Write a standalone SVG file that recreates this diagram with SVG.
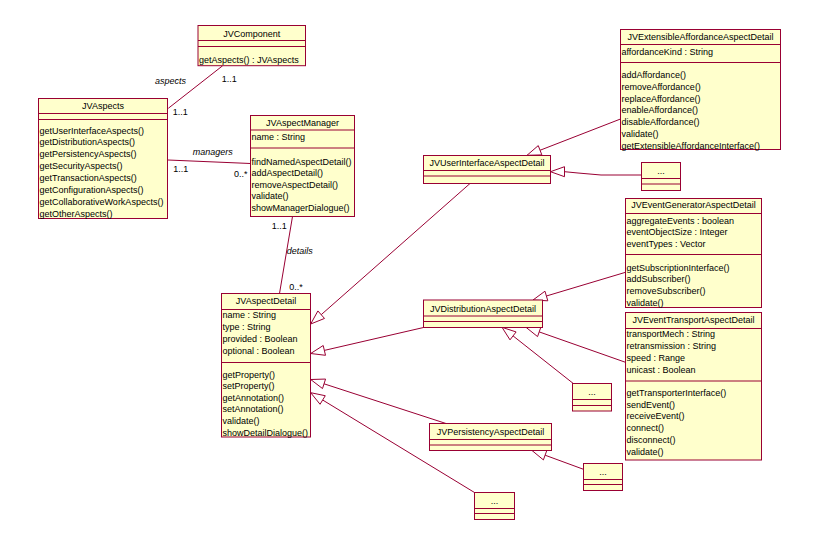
<svg xmlns="http://www.w3.org/2000/svg" width="819" height="545" viewBox="0 0 819 545">
<style>
.box{fill:#FFFFCC;stroke:#990033;stroke-width:1}
.div{stroke:#990033;stroke-width:1}
.ln{fill:none;stroke:#990033;stroke-width:1}
.tri{fill:#FFFFFF;stroke:#990033;stroke-width:1}
text{font-family:"Liberation Sans",Arial,sans-serif;font-size:9px;fill:#000000}
.t{text-anchor:middle}
.it{font-style:italic}
</style>
<rect width="819" height="545" fill="#FFFFFF"/>
<g id="connectors">
<line class="ln" x1="222.7" y1="65.7" x2="168.3" y2="108.3"/>
<line class="ln" x1="168" y1="160" x2="250.5" y2="163.5"/>
<line class="ln" x1="292.5" y1="216.5" x2="279.5" y2="293.5"/>
<line class="ln" x1="321.2" y1="314.7" x2="470" y2="183.5"/>
<polygon class="tri" points="310.7,324 324.5,318.45 317.9,310.95"/>
<line class="ln" x1="324.35" y1="350.4" x2="423.5" y2="327.5"/>
<polygon class="tri" points="310.7,353.5 325.5,355.3 323.2,345.5"/>
<line class="ln" x1="324" y1="383.8" x2="446" y2="423.5"/>
<polygon class="tri" points="310.7,379.5 322.5,388.55 325.55,379.05"/>
<line class="ln" x1="322.66" y1="400" x2="474.5" y2="492.5"/>
<polygon class="tri" points="310.7,392.7 320.05,404.27 325.27,395.73"/>
<line class="ln" x1="540.05" y1="150.25" x2="620.5" y2="119"/>
<polygon class="tri" points="527,155.3 541.85,154.9 538.25,145.6"/>
<polyline class="ln" points="564.5,171.7 578,173 601,175 641.5,175"/>
<polygon class="tri" points="550.5,171.7 564.5,166.7 564.5,176.7"/>
<line class="ln" x1="546.4" y1="296" x2="625.5" y2="272.3"/>
<polygon class="tri" points="533,300 547.8,300.8 544.97,291.2"/>
<line class="ln" x1="539.2" y1="331.9" x2="625.5" y2="362.3"/>
<polygon class="tri" points="526,327.3 537.55,336.6 540.85,327.2"/>
<line class="ln" x1="513.06" y1="335.9" x2="573.3" y2="383.5"/>
<polygon class="tri" points="502,327.3 510,339.85 516.1,331.95"/>
<line class="ln" x1="545.1" y1="455.2" x2="583.5" y2="469.3"/>
<polygon class="tri" points="532,450.5 543.4,459.9 546.8,450.5"/>
<text class="it" x="155" y="84">aspects</text>
<text x="221.7" y="82">1..1</text>
<text x="172.7" y="115">1..1</text>
<text class="it" x="192.7" y="155">managers</text>
<text x="173.3" y="172">1..1</text>
<text x="234" y="176.5">0..*</text>
<text x="271.7" y="229.3">1..1</text>
<text class="it" x="286.7" y="254.3">details</text>
<text x="289.3" y="290">0..*</text>
</g>
<g id="JVComponent">
<rect class="box" x="198" y="25.5" width="107.5" height="40.2"/>
<line class="div" x1="198" y1="40.5" x2="305.5" y2="40.5"/>
<line class="div" x1="198" y1="46.5" x2="305.5" y2="46.5"/>
<text class="t" x="251.7" y="36.5">JVComponent</text>
<text x="199" y="62.5">getAspects() : JVAspects</text>
</g>
<g id="JVAspects">
<rect class="box" x="38.5" y="98.5" width="129" height="120"/>
<line class="div" x1="38.5" y1="113.5" x2="167.5" y2="113.5"/>
<line class="div" x1="38.5" y1="119.5" x2="167.5" y2="119.5"/>
<text class="t" x="103" y="109.3">JVAspects</text>
<text x="39.5" y="133.5">getUserInterfaceAspects()</text>
<text x="39.5" y="145.4">getDistributionAspects()</text>
<text x="39.5" y="157.3">getPersistencyAspects()</text>
<text x="39.5" y="169.2">getSecurityAspects()</text>
<text x="39.5" y="181.1">getTransactionAspects()</text>
<text x="39.5" y="193">getConfigurationAspects()</text>
<text x="39.5" y="204.9">getCollaborativeWorkAspects()</text>
<text x="39.5" y="216.8">getOtherAspects()</text>
</g>
<g id="JVAspectManager">
<rect class="box" x="250.5" y="115.5" width="104" height="101"/>
<line class="div" x1="250.5" y1="130" x2="354.5" y2="130"/>
<line class="div" x1="250.5" y1="148" x2="354.5" y2="148"/>
<text class="t" x="302.5" y="126">JVAspectManager</text>
<text x="251.5" y="140">name : String</text>
<text x="251.5" y="164.5">findNamedAspectDetail()</text>
<text x="251.5" y="176.1">addAspectDetail()</text>
<text x="251.5" y="187.7">removeAspectDetail()</text>
<text x="251.5" y="199.3">validate()</text>
<text x="251.5" y="210.9">showManagerDialogue()</text>
</g>
<g id="JVAspectDetail">
<rect class="box" x="221.5" y="293.5" width="89" height="143.5"/>
<line class="div" x1="221.5" y1="309.5" x2="310.5" y2="309.5"/>
<line class="div" x1="221.5" y1="362.5" x2="310.5" y2="362.5"/>
<text class="t" x="266" y="304">JVAspectDetail</text>
<text x="222.5" y="318.3">name : String</text>
<text x="222.5" y="330.1">type : String</text>
<text x="222.5" y="341.9">provided : Boolean</text>
<text x="222.5" y="353.7">optional : Boolean</text>
<text x="222.5" y="377.6">getProperty()</text>
<text x="222.5" y="389.2">setProperty()</text>
<text x="222.5" y="400.8">getAnnotation()</text>
<text x="222.5" y="412.4">setAnnotation()</text>
<text x="222.5" y="424">validate()</text>
<text x="222.5" y="435.6">showDetailDialogue()</text>
</g>
<g id="JVUserInterfaceAspectDetail">
<rect class="box" x="423.5" y="155.5" width="127" height="28"/>
<line class="div" x1="423.5" y1="170.5" x2="550.5" y2="170.5"/>
<line class="div" x1="423.5" y1="176" x2="550.5" y2="176"/>
<text class="t" x="487" y="166">JVUserInterfaceAspectDetail</text>
</g>
<g id="UIOther">
<rect class="box" x="641.5" y="162.5" width="39" height="28"/>
<line class="div" x1="641.5" y1="178.5" x2="680.5" y2="178.5"/>
<line class="div" x1="641.5" y1="184" x2="680.5" y2="184"/>
<text class="t" x="661" y="174">...</text>
</g>
<g id="JVExtensibleAffordanceAspectDetail">
<rect class="box" x="620.5" y="29.5" width="160" height="120"/>
<line class="div" x1="620.5" y1="44.5" x2="780.5" y2="44.5"/>
<line class="div" x1="620.5" y1="62.5" x2="780.5" y2="62.5"/>
<text class="t" x="700.5" y="40">JVExtensibleAffordanceAspectDetail</text>
<text x="621.5" y="55.3">affordanceKind : String</text>
<text x="621.5" y="77.6">addAffordance()</text>
<text x="621.5" y="89.5">removeAffordance()</text>
<text x="621.5" y="101.5">replaceAffordance()</text>
<text x="621.5" y="113.4">enableAffordance()</text>
<text x="621.5" y="125.4">disableAffordance()</text>
<text x="621.5" y="137.3">validate()</text>
<text x="621.5" y="149.2">getExtensibleAffordanceInterface()</text>
</g>
<g id="JVEventGeneratorAspectDetail">
<rect class="box" x="625.5" y="198.5" width="136" height="109"/>
<line class="div" x1="625.5" y1="213.5" x2="761.5" y2="213.5"/>
<line class="div" x1="625.5" y1="254.5" x2="761.5" y2="254.5"/>
<text class="t" x="693.5" y="208.3">JVEventGeneratorAspectDetail</text>
<text x="626.5" y="223.6">aggregateEvents : boolean</text>
<text x="626.5" y="235.3">eventObjectSize : Integer</text>
<text x="626.5" y="247">eventTypes : Vector</text>
<text x="626.5" y="270.6">getSubscriptionInterface()</text>
<text x="626.5" y="282.3">addSubscriber()</text>
<text x="626.5" y="294">removeSubscriber()</text>
<text x="626.5" y="306">validate()</text>
</g>
<g id="JVEventTransportAspectDetail">
<rect class="box" x="625.5" y="312.5" width="136" height="147.5"/>
<line class="div" x1="625.5" y1="328.5" x2="761.5" y2="328.5"/>
<line class="div" x1="625.5" y1="381" x2="761.5" y2="381"/>
<text class="t" x="693.5" y="323.3">JVEventTransportAspectDetail</text>
<text x="626.5" y="337">transportMech : String</text>
<text x="626.5" y="349">retransmission : String</text>
<text x="626.5" y="361">speed : Range</text>
<text x="626.5" y="373">unicast : Boolean</text>
<text x="626.5" y="395.6">getTransporterInterface()</text>
<text x="626.5" y="407.5">sendEvent()</text>
<text x="626.5" y="419.4">receiveEvent()</text>
<text x="626.5" y="431.3">connect()</text>
<text x="626.5" y="443.2">disconnect()</text>
<text x="626.5" y="455.1">validate()</text>
</g>
<g id="JVDistributionAspectDetail">
<rect class="box" x="423.5" y="300" width="119" height="27.5"/>
<line class="div" x1="423.5" y1="316" x2="542.5" y2="316"/>
<line class="div" x1="423.5" y1="321.5" x2="542.5" y2="321.5"/>
<text class="t" x="483" y="311.6">JVDistributionAspectDetail</text>
</g>
<g id="DistOther">
<rect class="box" x="572.5" y="383.5" width="39" height="27.5"/>
<line class="div" x1="572.5" y1="399.5" x2="611.5" y2="399.5"/>
<line class="div" x1="572.5" y1="405.5" x2="611.5" y2="405.5"/>
<text class="t" x="592" y="395">...</text>
</g>
<g id="JVPersistencyAspectDetail">
<rect class="box" x="429.5" y="423.5" width="122" height="27"/>
<line class="div" x1="429.5" y1="439.5" x2="551.5" y2="439.5"/>
<line class="div" x1="429.5" y1="445" x2="551.5" y2="445"/>
<text class="t" x="490.5" y="435">JVPersistencyAspectDetail</text>
</g>
<g id="PersOther">
<rect class="box" x="583.5" y="463.5" width="39" height="27"/>
<line class="div" x1="583.5" y1="479.5" x2="622.5" y2="479.5"/>
<line class="div" x1="583.5" y1="484.5" x2="622.5" y2="484.5"/>
<text class="t" x="603" y="475">...</text>
</g>
<g id="DetailOther">
<rect class="box" x="474.5" y="492.5" width="40" height="27"/>
<line class="div" x1="474.5" y1="508.5" x2="514.5" y2="508.5"/>
<line class="div" x1="474.5" y1="513.5" x2="514.5" y2="513.5"/>
<text class="t" x="494.5" y="503.7">...</text>
</g>
</svg>
